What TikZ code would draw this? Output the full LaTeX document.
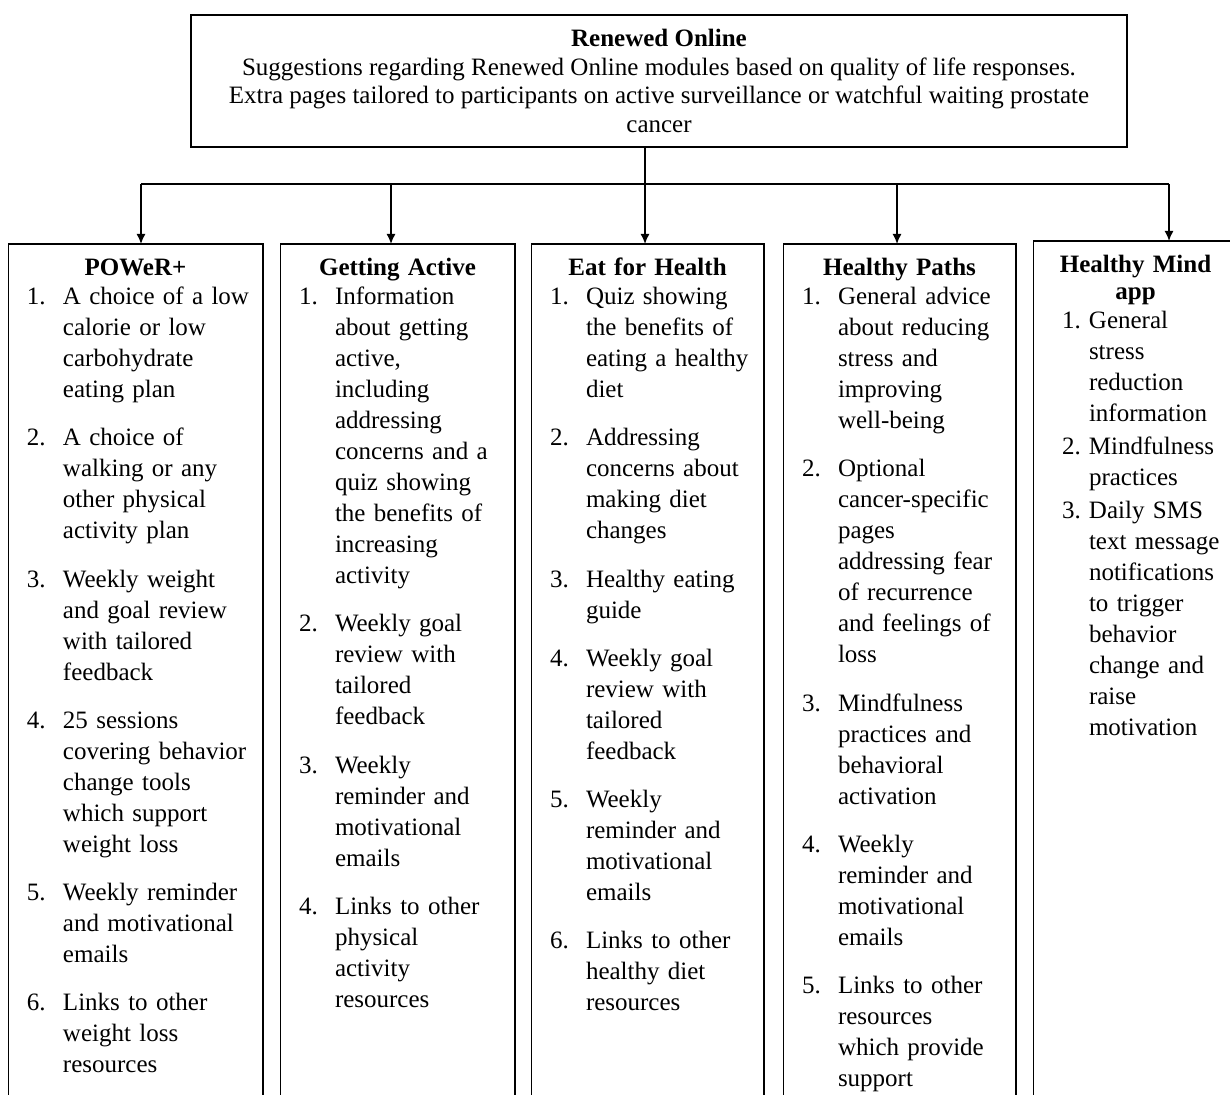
\documentclass[tikz,border=0pt]{standalone}
\usepackage{fontspec}
\setmainfont{Liberation Serif}
\usetikzlibrary{arrows.meta,calc}

\newlength{\stepgap}
\newlength{\stepindent}
\newlength{\stepnum}
\newcommand{\listfont}{\fontsize{12.5}{15.5}\selectfont}
\newcommand{\modtitle}[1]{{\centering\bfseries\fontsize{12.5}{13.5}\selectfont
  \rule{0pt}{10.85pt}#1\par}\vspace{-1pt}}
\newcommand{\modstep}[2]{\noindent\hspace*{\stepindent}\makebox[\stepnum][l]{#1}%
  \begin{tabular}[t]{@{}l@{}}#2\end{tabular}\par\vspace{\stepgap}}

\begin{document}
\begin{tikzpicture}[>={Latex[length=5pt,width=4.5pt]}, x=0.5pt, y=-0.5pt,
  line width=0.75pt,
  headbox/.style={draw, minimum width=468pt, minimum height=66pt, align=center,
    font=\fontsize{12.5}{14.25}\selectfont, inner sep=0pt},
  modtext/.style={anchor=north, inner xsep=0pt, inner ysep=4.65pt, text width=#1,
    align=left, font=\listfont},
  modframe/.style={draw},
  gaps/.style={execute at begin node={\setlength{\stepgap}{7.6pt}%
    \setlength{\stepindent}{9pt}\setlength{\stepnum}{18pt}}},
  nogaps/.style={execute at begin node={\setlength{\stepgap}{0pt}%
    \setlength{\stepindent}{14pt}\setlength{\stepnum}{13.5pt}}}]
  \useasboundingbox (0,0) rectangle (1230,1095);
  \clip (0,0) rectangle (1230,1095);
  % overview box
  \node[headbox] (top) at (659,81) {\textbf{Renewed Online}\\
    Suggestions regarding Renewed Online modules based on quality of life responses.\\
    Extra pages tailored to participants on active surveillance or watchful waiting prostate\\
    cancer};
  % modules
  \node[modtext=126.5pt, gaps] (power) at (135.5,244) {\modtitle{POWeR+}
    \modstep{1.}{A choice of a low\\calorie or low\\carbohydrate\\eating plan}
    \modstep{2.}{A choice of\\walking or any\\other physical\\activity plan}
    \modstep{3.}{Weekly weight\\and goal review\\with tailored\\feedback}
    \modstep{4.}{25 sessions\\covering behavior\\change tools\\which support\\weight loss}
    \modstep{5.}{Weekly reminder\\and motivational\\emails}
    \modstep{6.}{Links to other\\weight loss\\resources}};
  \node[modtext=116.5pt, gaps] (active) at (397.5,244) {\modtitle{Getting Active}
    \modstep{1.}{Information\\about getting\\active,\\including\\addressing\\concerns and a\\quiz showing\\the benefits of\\increasing\\activity}
    \modstep{2.}{Weekly goal\\review with\\tailored\\feedback}
    \modstep{3.}{Weekly\\reminder and\\motivational\\emails}
    \modstep{4.}{Links to other\\physical\\activity\\resources}};
  \node[modtext=115.5pt, gaps] (eat) at (647.5,244) {\modtitle{Eat for Health}
    \modstep{1.}{Quiz showing\\the benefits of\\eating a healthy\\diet}
    \modstep{2.}{Addressing\\concerns about\\making diet\\changes}
    \modstep{3.}{Healthy eating\\guide}
    \modstep{4.}{Weekly goal\\review with\\tailored\\feedback}
    \modstep{5.}{Weekly\\reminder and\\motivational\\emails}
    \modstep{6.}{Links to other\\healthy diet\\resources}};
  \node[modtext=115.5pt, gaps] (paths) at (899.5,244) {\modtitle{Healthy Paths}
    \modstep{1.}{General advice\\about reducing\\stress and\\improving\\well-being}
    \modstep{2.}{Optional\\cancer-specific\\pages\\addressing fear\\of recurrence\\and feelings of\\loss}
    \modstep{3.}{Mindfulness\\practices and\\behavioral\\activation}
    \modstep{4.}{Weekly\\reminder and\\motivational\\emails}
    \modstep{5.}{Links to other\\resources\\which provide\\support}};
  \node[modtext=101.5pt, nogaps] (mind) at (1135.5,241) {\modtitle{Healthy Mind\\app}
    \modstep{1.}{General\\stress\\reduction\\information}
    \modstep{2.}{Mindfulness\\practices}
    \modstep{3.}{Daily SMS\\text message\\notifications\\to trigger\\behavior\\change and\\raise\\motivation}};
  \foreach \m in {power,active,eat,paths,mind}
    \draw[modframe] (\m.north west) rectangle ($(\m.north east)+(0,1200)$);
  % connectors
  \coordinate (hub) at (645,184);
  \draw (top.south -| hub) -- (hub);
  \foreach \m/\x in {power/141,active/391,eat/645,paths/897,mind/1169}
    \coordinate (bar-\m) at (\x,184);
  \draw (bar-power) -- (bar-mind);
  \foreach \m in {power,active,eat,paths,mind}
    \draw[->] (bar-\m) -- (bar-\m |- \m.north);
\end{tikzpicture}
\end{document}
